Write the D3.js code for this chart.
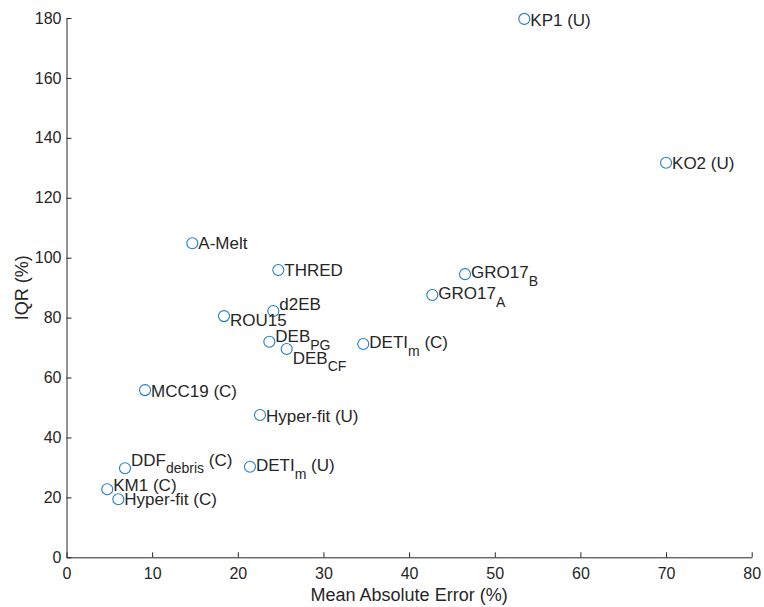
<!DOCTYPE html>
<html>
<head>
<meta charset="utf-8">
<script src="https://cdn.jsdelivr.net/npm/d3@7"></script>
<style>
  body { margin: 0; background: #fff; }
  text { font-family: "Liberation Sans", Arial, sans-serif; fill: #262626; }
</style>
</head>
<body>
<div id="chart"></div>
<script>
// ------- Data -------
// label name, optional subscript, suffix
const names = [
  "KP1 (U)", "KO2 (U)", "A-Melt", "THRED", "GRO17", "GRO17", "d2EB", "ROU15",
  "DEB", "DEB", "DETI", "MCC19 (C)", "Hyper-fit (U)", "DDF", "DETI", "KM1 (C)", "Hyper-fit (C)"
];
const subs = ["", "", "", "", "B", "A", "", "", "PG", "CF", "m", "", "", "debris", "m", "", ""];
const suffix = ["", "", "", "", "", "", "", "", "", "", " (C)", "", "", " (C)", " (U)", "", ""];
const mae = [53.45, 70.0, 14.69, 24.73, 46.53, 42.71, 24.15, 18.39, 23.68, 25.71, 34.65, 9.17, 22.59, 6.83, 21.42, 4.76, 6.05];
const iqr = [179.7, 131.7, 104.8, 95.9, 94.5, 87.55, 82.2, 80.5, 71.96, 69.5, 71.2, 55.8, 47.5, 29.7, 30.2, 22.7, 19.4];
// vertical nudge of each label (px)
const labelDy = [2, 1, 0.5, 0.5, -1.5, -1, -7, 4.5, -5, 9, -1, 1, 2, -8, -1, -4, 0];

const xTicks = [0, 10, 20, 30, 40, 50, 60, 70, 80];
const yTicks = [0, 20, 40, 60, 80, 100, 120, 140, 160, 180];

// ------- Chart Setup -------
const margin = { top: 18, right: 12.3, bottom: 49.7, left: 66.5 };
const width = 764 - margin.left - margin.right;
const height = 607 - margin.top - margin.bottom;

const svg = d3.select("#chart")
  .append("svg")
  .attr("width", 764)
  .attr("height", 607)
  .append("g")
  .attr("transform", `translate(${margin.left},${margin.top})`);

const x = d3.scaleLinear().domain([0, 80]).range([0, width]);
const y = d3.scaleLinear().domain([0, 180]).range([height, 0]);

// ------- Axes (ticks inward, MATLAB style) -------
const xAxis = svg.append("g")
  .attr("transform", `translate(0,${height})`)
  .call(d3.axisBottom(x).tickValues(xTicks).tickSizeInner(-5).tickSizeOuter(0).tickPadding(10));

const yAxis = svg.append("g")
  .call(d3.axisLeft(y).tickValues(yTicks).tickSizeInner(-5).tickSizeOuter(0).tickPadding(5));

[xAxis, yAxis].forEach(a => {
  a.select(".domain").attr("stroke", "#262626").attr("stroke-width", 1);
  a.selectAll(".tick line").attr("stroke", "#262626");
  a.selectAll(".tick text")
    .attr("fill", "#262626")
    .style("font-size", "16px")
    .style("font-family", "'Liberation Sans', Arial, sans-serif");
});
xAxis.selectAll(".tick text").attr("dy", "0.71em");

// ------- Axis labels -------
svg.append("text")
  .attr("x", width / 2)
  .attr("y", height + 44)
  .attr("text-anchor", "middle")
  .style("font-size", "18px")
  .text("Mean Absolute Error (%)");

svg.append("text")
  .attr("transform", `translate(${-45},${height / 2}) rotate(-90)`)
  .attr("text-anchor", "middle")
  .attr("dy", "0.35em")
  .style("font-size", "18px")
  .text("IQR (%)");

// ------- Points -------
const pts = names.map((n, i) => ({ n, sub: subs[i], suf: suffix[i], x: mae[i], y: iqr[i], dy: labelDy[i] }));

svg.append("g")
  .selectAll("circle")
  .data(pts)
  .enter()
  .append("circle")
  .attr("cx", d => x(d.x))
  .attr("cy", d => y(d.y))
  .attr("r", 5.5)
  .attr("fill", "none")
  .attr("stroke", "#1f7fc9")
  .attr("stroke-width", 1.1);

// ------- Labels -------
const labels = svg.append("g")
  .selectAll("text")
  .data(pts)
  .enter()
  .append("text")
  .attr("x", d => x(d.x) + 6)
  .attr("y", d => y(d.y) + d.dy + 5.5)
  .style("font-size", "17px");

labels.append("tspan").text(d => d.n);
labels.filter(d => d.sub)
  .append("tspan")
  .attr("dy", 7.5)
  .style("font-size", "14px")
  .text(d => d.sub);
labels.filter(d => d.suf)
  .append("tspan")
  .attr("dy", -7.5)
  .text(d => d.suf);
</script>
</body>
</html>
